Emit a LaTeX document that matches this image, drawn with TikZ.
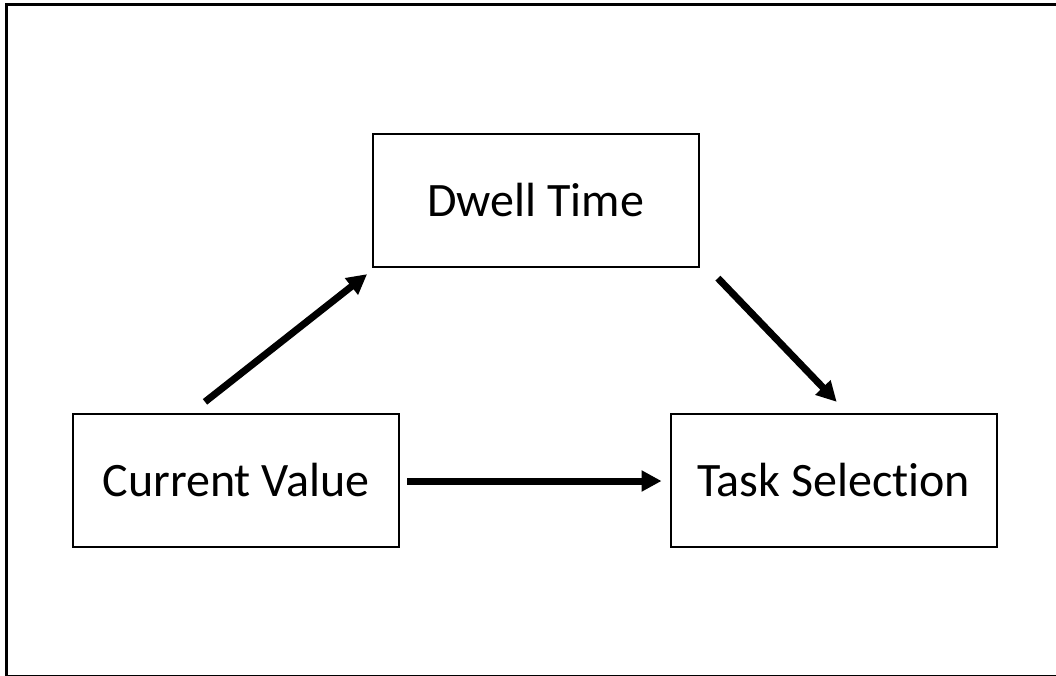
\documentclass[tikz,border=0pt]{standalone}
\usepackage{fontspec}
\setmainfont[Ligatures={NoCommon}]{Carlito}
\usetikzlibrary{arrows.meta,calc}
\begin{document}
\begin{tikzpicture}[x=1pt,y=-1pt,
  box/.style={draw=black, line width=2.3pt, minimum width=326pt, minimum height=133pt, inner sep=0pt,
    font=\fontsize{48}{58}\selectfont, text=black},
  conn/.style={line width=7pt, -{Triangle[length=20pt,width=20pt]}}]
\useasboundingbox (0,0) rectangle (1056,676);
\draw[line width=3pt] (6.5,5) rectangle (1075,676);
\node[box] (dw) at (535.75,200.5) {Dwell Time};
\node[box] (cv) at (236,480.5) {Current Value};
\node[box] (ts) at (833.7,480.5) {Task Selection};
\draw[conn] ($(cv.north)+(-31,-11)$) -- ($(dw.south west)+(-4.5,6)$);
\draw[conn] ($(dw.south east)+(18,10)$) -- ($(ts.north)+(3,-11)$);
\draw[conn] ($(cv.east)+(7,0.5)$) -- ($(ts.west)+(-8,0.5)$);
\end{tikzpicture}
\end{document}
